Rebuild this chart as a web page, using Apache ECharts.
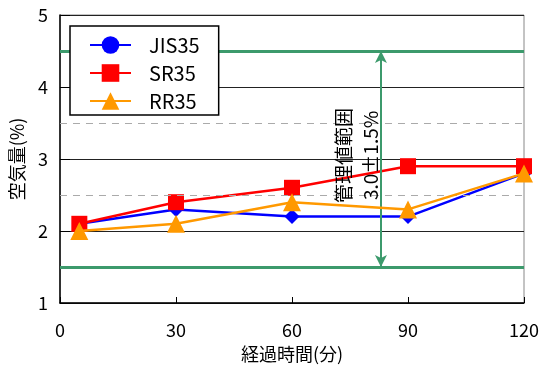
<!DOCTYPE html>
<html><head><meta charset="utf-8">
<script src="https://cdn.jsdelivr.net/npm/echarts@6/dist/echarts.min.js"></script>
<style>html,body{margin:0;padding:0;background:#fff}#c{width:542px;height:371px}</style>
</head><body><div id="c"></div>
<script>
// 経過時間ごとの空気量
const minutes = [5, 30, 60, 90, 120];
const jis35 = [2.1, 2.3, 2.2, 2.2, 2.8];
const sr35 = [2.1, 2.4, 2.6, 2.9, 2.9];
const rr35 = [2.0, 2.1, 2.4, 2.3, 2.8];
const seriesNames = ['JIS35', 'SR35', 'RR35'];

// 管理値 3.0±1.5%
const limitLines = [1.5, 4.5];
const halfLines = [2.5, 3.5];
const rangeArrowX = 83;
const rangeLabel = ['管理値範囲', '3.0±1.5%'];
const rangeLabelAt = [77, 3.05];

const xAxisName = '経過時間(分)';
const yAxisName = '空気量(%)';

const FONT = 'Noto Sans CJK JP';
const GREEN = '#3c9a6c';

const pairs = vals => minutes.map((m, i) => [m, vals[i]]);

const chart = echarts.init(document.getElementById('c'), null, { renderer: 'canvas' });
chart.setOption({
  backgroundColor: '#fff',
  animation: false,
  textStyle: { fontFamily: FONT },
  grid: { left: 58, right: 15, top: 15, bottom: 68, show: true, borderColor: '#888', borderWidth: 1 },
  legend: {
    data: seriesNames,
    orient: 'vertical',
    left: 70, top: 26,
    backgroundColor: '#fff',
    borderColor: '#000', borderWidth: 1.5, borderRadius: 0,
    padding: [9, 19, 4, 19],
    itemWidth: 41, itemHeight: 22, itemGap: 8,
    textStyle: { fontFamily: FONT, fontSize: 20, color: '#000', padding: [0, 0, 0, 13] },
    z: 10
  },
  xAxis: {
    type: 'value', min: 0, max: 120, interval: 30,
    name: xAxisName, nameLocation: 'middle', nameGap: 42,
    nameTextStyle: { fontFamily: FONT, fontSize: 18, color: '#000' },
    axisLine: { lineStyle: { color: '#000', width: 1.5 } },
    axisTick: { inside: true, length: 6, lineStyle: { color: '#000' } },
    axisLabel: { fontFamily: FONT, fontSize: 18, color: '#000', margin: 18 },
    splitLine: { show: false }
  },
  yAxis: {
    type: 'value', min: 1, max: 5, interval: 1,
    name: yAxisName, nameLocation: 'middle', nameGap: 34, nameRotate: 90,
    nameTextStyle: { fontFamily: FONT, fontSize: 18, color: '#000' },
    axisLine: { show: true, lineStyle: { color: '#000', width: 1.5 } },
    axisTick: { show: true, inside: true, length: 10, lineStyle: { color: '#000' } },
    axisLabel: { fontFamily: FONT, fontSize: 18, color: '#000', margin: 12 },
    splitLine: { show: true, lineStyle: { color: '#222', width: 1 } }
  },
  series: [
    // legend entry for JIS35 (circle marker)
    { name: 'JIS35', type: 'line', data: [], symbol: 'circle', symbolSize: 18,
      itemStyle: { color: '#0000ff' }, lineStyle: { color: '#0000ff', width: 2.5 } },
    // reference lines, arrow and label
    { name: '管理値', type: 'line', data: [], silent: true, z: 1,
      markLine: {
        silent: true, symbol: 'none', label: { show: false },
        data: [
          ...halfLines.map(v => ({ yAxis: v, lineStyle: { color: '#aaa', type: [7, 6], width: 1 } })),
          ...limitLines.map(v => ({ yAxis: v, lineStyle: { color: GREEN, type: 'solid', width: 3 } })),
          [
            { coord: [rangeArrowX, limitLines[1]], symbol: 'arrow' },
            { coord: [rangeArrowX, limitLines[0]], symbol: 'arrow',
              lineStyle: { color: GREEN, type: 'solid', width: 2 } }
          ]
        ],
        symbolSize: [9, 12]
      },
      markPoint: {
        silent: true, symbol: 'circle', symbolSize: 1,
        itemStyle: { color: 'rgba(0,0,0,0)' },
        label: {
          show: true, position: 'inside', rotate: 90,
          fontFamily: FONT, fontSize: 19, lineHeight: 27, color: '#000',
          formatter: rangeLabel.join('\n')
        },
        data: [{ coord: rangeLabelAt }]
      }
    },
    { name: 'JIS35', type: 'line', data: pairs(jis35), symbol: 'diamond', symbolSize: 15, z: 3,
      itemStyle: { color: '#0000ff' }, lineStyle: { color: '#0000ff', width: 2.5 } },
    { name: 'SR35', type: 'line', data: pairs(sr35), symbol: 'rect', symbolSize: 16, z: 4,
      itemStyle: { color: '#ff0000' }, lineStyle: { color: '#ff0000', width: 2.5 } },
    { name: 'RR35', type: 'line', data: pairs(rr35), symbol: 'triangle', symbolSize: 18, z: 5,
      itemStyle: { color: '#ff9900' }, lineStyle: { color: '#ff9900', width: 2.5 } }
  ]
});
</script>
</body></html>
